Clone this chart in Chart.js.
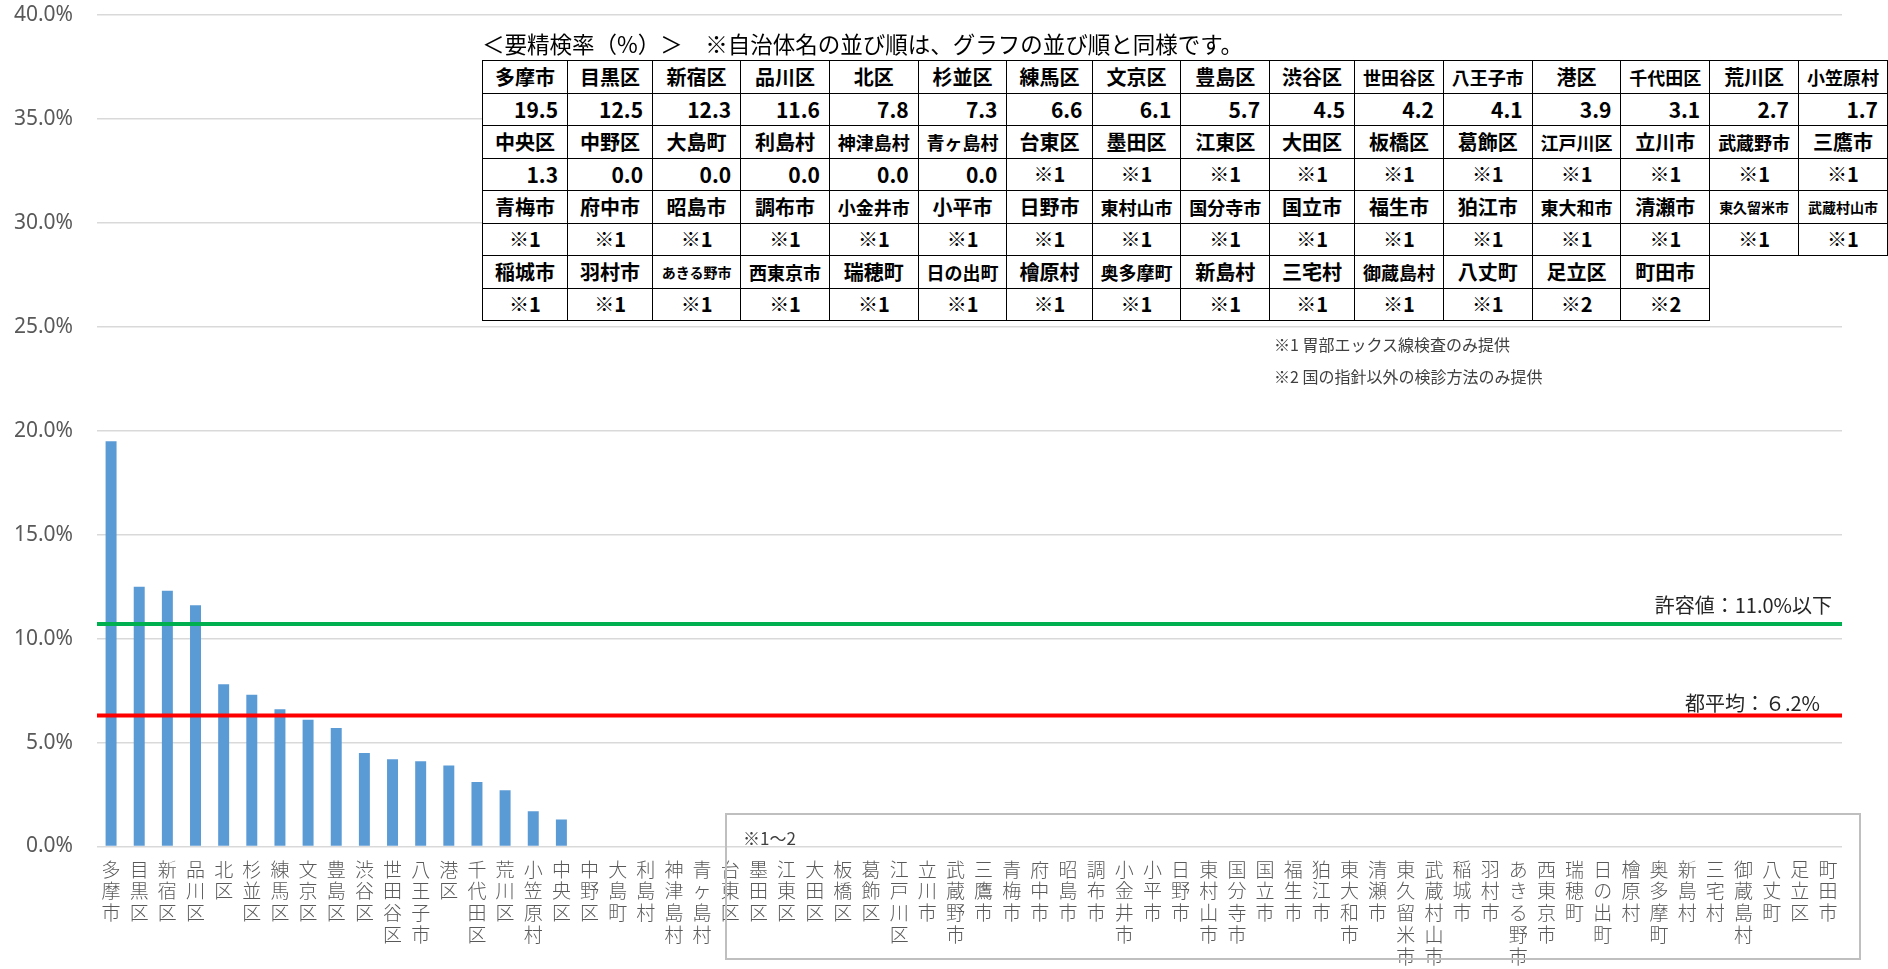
<!DOCTYPE html>
<html lang="ja">
<head>
<meta charset="utf-8">
<title>要精検率</title>
<script src="https://cdn.jsdelivr.net/npm/chart.js@4.4.1/dist/chart.umd.min.js"></script>
<style>
  body { margin: 0; background: #fff; }
  #wrap { position: relative; width: 1888px; height: 969px; font-family: "Noto Sans CJK JP", sans-serif; }
  #chart { position: absolute; left: 0; top: 0; }
  #title { position: absolute; left: 482px; top: 29px; font-size: 22.5px; line-height: 28px; color: #000; white-space: nowrap; }
  #tbl { position: absolute; left: 482px; top: 60px; border-collapse: collapse; table-layout: fixed; background: #fff;
         font-family: "Liberation Sans Narrow", "Noto Sans CJK JP", sans-serif; font-weight: bold; color: #000; }
  #tbl td { width: 86px; height: 31px; padding: 0; border: 1.5px solid #000; text-align: center; font-size: 20px; line-height: 1; white-space: nowrap; overflow: hidden; }
  #tbl td.num { text-align: right; padding-right: 9px; font-size: 21px; }
  #tbl td.blank { border: none; background: transparent; }
  .foot { position: absolute; left: 1274px; font-size: 16px; line-height: 20px; color: #404040; white-space: nowrap; }
  #box { position: absolute; left: 725px; top: 813px; width: 1132px; height: 143px; border: 2px solid #bfbfbf; }
  #box span { position: absolute; left: 16px; top: 10px; font-size: 17px; color: #404040; }
</style>
</head>
<body>
<div id="wrap">
  <canvas id="chart" width="1888" height="969"></canvas>
  <div id="title">＜要精検率（%）＞　※自治体名の並び順は、グラフの並び順と同様です。</div>
  <table id="tbl"></table>
  <div class="foot" style="top:334px">※1 胃部エックス線検査のみ提供</div>
  <div class="foot" style="top:366px">※2 国の指針以外の検診方法のみ提供</div>
  <div id="box"><span>※1～2</span></div>
</div>
<script>
const categories = ['多摩市','目黒区','新宿区','品川区','北区','杉並区','練馬区','文京区','豊島区','渋谷区',
  '世田谷区','八王子市','港区','千代田区','荒川区','小笠原村','中央区','中野区','大島町','利島村',
  '神津島村','青ヶ島村','台東区','墨田区','江東区','大田区','板橋区','葛飾区','江戸川区','立川市',
  '武蔵野市','三鷹市','青梅市','府中市','昭島市','調布市','小金井市','小平市','日野市','東村山市',
  '国分寺市','国立市','福生市','狛江市','東大和市','清瀬市','東久留米市','武蔵村山市','稲城市','羽村市',
  'あきる野市','西東京市','瑞穂町','日の出町','檜原村','奥多摩町','新島村','三宅村','御蔵島村','八丈町',
  '足立区','町田市'];

// 要精検率(%) — municipalities from 台東区 onward have no value
const rates = [19.5, 12.5, 12.3, 11.6, 7.8, 7.3, 6.6, 6.1, 5.7, 4.5,
  4.2, 4.1, 3.9, 3.1, 2.7, 1.7, 1.3, 0.0, 0.0, 0.0, 0.0, 0.0];

// table marks for the municipalities without a rate (台東区 ... 町田市)
const marks = ['※1','※1','※1','※1','※1','※1','※1','※1','※1','※1',
  '※1','※1','※1','※1','※1','※1','※1','※1','※1','※1',
  '※1','※1','※1','※1','※1','※1','※1','※1','※1','※1',
  '※1','※1','※1','※1','※1','※1','※1','※1','※2','※2'];

const yTicks = [0, 5, 10, 15, 20, 25, 30, 35, 40];

const refValues = [10.7, 6.3];
const refLabels = ['許容値：11.0%以下', '都平均：６.2%'];
const refColors = ['#00b050', '#ff0000'];

const COLS = 16;

function buildTable() {
  const tbl = document.getElementById('tbl');
  for (let start = 0; start < categories.length; start += COLS) {
    const names = document.createElement('tr');
    const vals = document.createElement('tr');
    for (let i = start; i < start + COLS; i++) {
      const n = document.createElement('td');
      const v = document.createElement('td');
      if (i >= categories.length) {
        n.className = 'blank'; v.className = 'blank';
      } else {
        const name = categories[i];
        n.textContent = name;
        if (name.length >= 5) n.style.fontSize = '14px';
        else if (name.length === 4) n.style.fontSize = '18px';
        if (i < rates.length) { v.textContent = rates[i].toFixed(1); v.className = 'num'; }
        else v.textContent = marks[i - rates.length];
      }
      names.appendChild(n); vals.appendChild(v);
    }
    names.style.height = vals.style.height = '32.5px';
    tbl.appendChild(names); tbl.appendChild(vals);
  }
}

const refLines = {
  id: 'refLines',
  afterDatasetsDraw(chart) {
    const { ctx, chartArea: a, scales: { y } } = chart;
    refValues.forEach((val, i) => {
      const py = y.getPixelForValue(val);
      ctx.save();
      ctx.strokeStyle = refColors[i];
      ctx.lineWidth = 4;
      ctx.beginPath();
      ctx.moveTo(a.left, py);
      ctx.lineTo(a.right, py);
      ctx.stroke();
      ctx.fillStyle = '#262626';
      ctx.font = '20px "Noto Sans CJK JP"';
      ctx.textAlign = 'right';
      ctx.textBaseline = 'bottom';
      ctx.fillText(refLabels[i], a.right - (i === 0 ? 10 : 22), py - (i === 0 ? 9 : 2));
      ctx.restore();
    });
  }
};

document.addEventListener('DOMContentLoaded', () => {
  buildTable();
  const ctx = document.getElementById('chart').getContext('2d');
  new Chart(ctx, {
    type: 'bar',
    data: {
      labels: categories.map(c => [...c]),
      datasets: [{
        data: rates,
        backgroundColor: '#5b9bd5',
        barPercentage: 0.39,
        categoryPercentage: 1
      }]
    },
    options: {
      responsive: false,
      animation: false,
      layout: { padding: { top: 15, right: 46, bottom: 0, left: 0 } },
      plugins: { legend: { display: false }, tooltip: { enabled: false } },
      scales: {
        x: {
          grid: { display: false, drawTicks: false },
          border: { display: false },
          ticks: {
            autoSkip: false, maxRotation: 0, minRotation: 0, padding: 12,
            color: '#595959',
            font: { family: '"Noto Sans CJK JP"', size: 19, weight: '300', lineHeight: 1.15 }
          },
          afterFit: s => { s.height = 122.5; }
        },
        y: {
          min: 0, max: 40,
          afterBuildTicks: s => { s.ticks = yTicks.map(v => ({ value: v })); },
          grid: { color: '#d9d9d9', lineWidth: 1.5, drawTicks: false },
          border: { display: false },
          ticks: {
            padding: 24, color: '#595959',
            font: { family: '"Noto Sans"', size: 21 },
            callback: v => v.toFixed(1) + '%'
          },
          // fixed axis width; drop the label overhang so 40% sits at the top padding
          afterFit: s => { s.width = 97; s.paddingTop = 0; s.paddingBottom = 0; }
        }
      }
    },
    plugins: [refLines]
  });
});
</script>
</body>
</html>
